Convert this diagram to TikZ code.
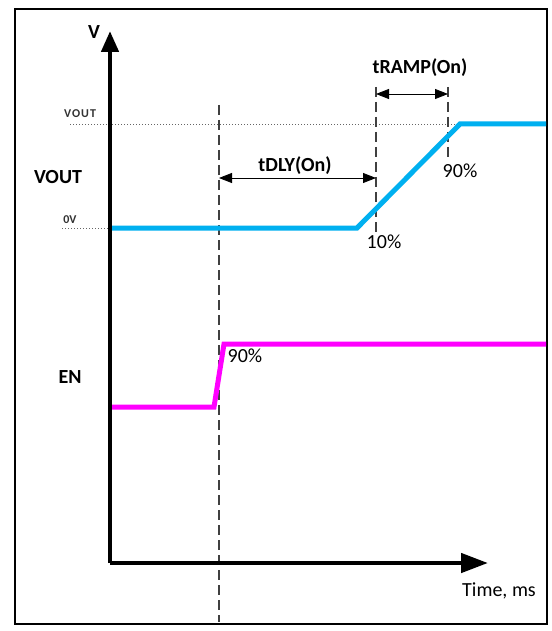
\documentclass[tikz,border=0pt]{standalone}
\usepackage{fontspec}
\setmainfont{Carlito}
\usetikzlibrary{arrows.meta}
\definecolor{vblue}{HTML}{00B0F0}
\definecolor{enmag}{HTML}{FF00FF}
\definecolor{dashgray}{HTML}{404040}
\tikzset{
  axis/.style={line width=4.5pt, draw=black, line join=miter},
  dashv/.style={draw=dashgray, line width=1.5pt, dash pattern=on 10pt off 5pt},
  dotl/.style={draw=black!60, line width=1pt, dash pattern=on 1pt off 2pt},
  sig/.style={line width=5pt, line join=miter},
  dim/.style={draw=black, line width=0.8pt, {Triangle[length=13pt,width=10pt]}-{Triangle[length=13pt,width=10pt]}},
  lbl/.style={font=\fontsize{20}{22}\selectfont\bfseries, inner sep=0pt},
  pct/.style={font=\fontsize{20}{22}\selectfont, inner sep=0pt},
  small/.style={font=\fontsize{12}{13}\selectfont\bfseries, text=black!80, inner sep=0pt}
}
\begin{document}
\begin{tikzpicture}[x=1pt,y=-1pt]
\useasboundingbox (0,0) rectangle (551,631);
\fill[white] (0,0) rectangle (551,631);
% frame
\draw[line width=2pt] (15,9) rectangle (547,624);
% coordinates
\coordinate (origin) at (110,563);
\coordinate (ytip) at (110,31);
\coordinate (xtip) at (488,563);
\coordinate (d1t) at (219,105);
\coordinate (d1b) at (219,622);
\coordinate (d2t) at (376,87);
\coordinate (d2b) at (376,233);
\coordinate (d3t) at (448,87);
\coordinate (d3b) at (448,157);
\coordinate (vo1) at (70,125);
\coordinate (vo2) at (458,125);
\coordinate (zv1) at (62,228);
\coordinate (zv2) at (110,228);
\coordinate (b1) at (110,228);
\coordinate (b2) at (357,228);
\coordinate (b3) at (460,124);
\coordinate (b4) at (546,124);
\coordinate (m1) at (110,407);
\coordinate (m2) at (214,407);
\coordinate (m3) at (224,344);
\coordinate (m4) at (546,344);
\coordinate (r1) at (376,94);
\coordinate (r2) at (448,94);
\coordinate (t1) at (219,178);
\coordinate (t2) at (376,178);
% dotted reference lines
\draw[dotl] (vo1) -- (vo2);
\draw[dotl] (zv1) -- (zv2);
% dashed verticals
\draw[dashv] (d1t) -- (d1b);
\draw[dashv] (d2t) -- (d2b);
\draw[dashv] (d3t) -- (d3b);
% signals
\draw[sig, vblue] (b1) -- (b2) -- (b3) -- (b4);
\draw[sig, enmag] (m1) -- (m2) -- (m3) -- (m4);
% axes
\draw[axis, -{Triangle[length=21pt,width=17pt]}] (origin) -- (ytip);
\draw[axis, -{Triangle[length=27pt,width=19pt]}] (origin) -- (xtip);
% dimension arrows
\draw[dim] (r1) -- (r2);
\draw[dim] (t1) -- (t2);
% labels
\node[lbl] (vlab) at (94,32) {V};
\node[small] (voutsm) at (80,114) {V\kern1ptO\kern1ptU\kern1ptT};
\node[lbl] (vout) at (58,177) {VOUT};
\node[small] (zerov) at (70,220) {0V};
\node[lbl] (tdly) at (295,166) {tDLY(On)};
\node[lbl] (tramp) at (420,68) {tRAMP(On)};
\node[pct] (p90a) at (460,171) {90\%};
\node[pct] (p10) at (384,242) {10\%};
\node[lbl] (en) at (70,377) {EN};
\node[pct] (p90b) at (245,356) {90\%};
\node[pct] (time) at (499,591) {Time, ms};
\end{tikzpicture}
\end{document}
